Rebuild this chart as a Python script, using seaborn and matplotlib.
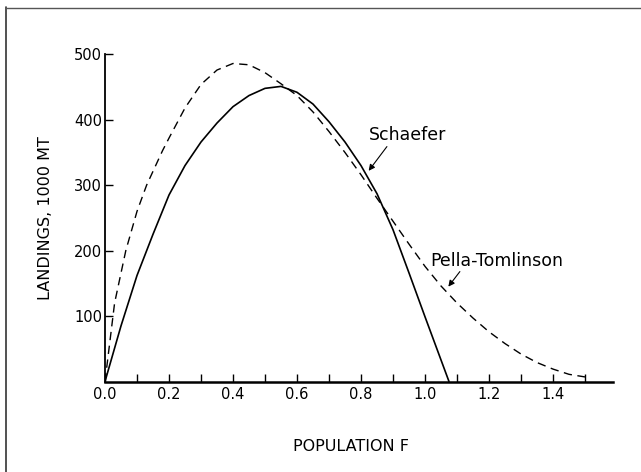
import matplotlib
matplotlib.use("Agg")
import matplotlib.pyplot as plt
from matplotlib.lines import Line2D
import pandas as pd
import seaborn as sns

# Schaefer curve (solid)
schaefer_f = [0, 0.05, 0.1, 0.15, 0.2, 0.25, 0.3, 0.35, 0.4, 0.45, 0.5, 0.55,
              0.6, 0.65, 0.7, 0.75, 0.8, 0.85, 0.9, 0.95, 1.0, 1.05, 1.075]
schaefer_y = [0, 85, 162, 225, 285, 330, 366, 395, 420, 437, 448, 451,
              442, 424, 397, 366, 330, 287, 232, 166, 99, 33, 0]

# Pella-Tomlinson curve (dashed)
pella_f = [0, 0.03, 0.065, 0.1, 0.13, 0.18, 0.2, 0.25, 0.3, 0.35, 0.4, 0.45,
           0.5, 0.55, 0.6, 0.65, 0.7, 0.75, 0.8, 0.85, 0.9, 0.95, 1.0, 1.05,
           1.1, 1.15, 1.2, 1.25, 1.3, 1.35, 1.4, 1.45, 1.5]
pella_y = [0, 120, 200, 260, 300, 353, 372, 418, 454, 476, 486, 484,
           472, 455, 437, 412, 382, 350, 316, 280, 245, 210, 176, 146,
           120, 97, 76, 58, 42, 29, 19, 11, 7]

x_major = [0.0, 0.2, 0.4, 0.6, 0.8, 1.0, 1.2, 1.4]
x_minor = [0.1, 0.3, 0.5, 0.7, 0.9, 1.1, 1.3, 1.5]
y_ticks = [100, 200, 300, 400, 500]

sns.set_style("ticks")
plt.rcParams["font.family"] = ["DejaVu Sans"]
plt.rcParams["text.color"] = "black"
plt.rcParams["axes.labelcolor"] = "black"

fig = plt.figure(figsize=(6.41, 4.72), dpi=100)
ax = fig.add_axes([0.1638, 0.1917, 0.7925, 0.6932])

df_s = pd.DataFrame({"F": schaefer_f, "Y": schaefer_y})
df_p = pd.DataFrame({"F": pella_f, "Y": pella_y})

sns.lineplot(data=df_s, x="F", y="Y", ax=ax, color="black", lw=1.2,
             sort=False, estimator=None)
sns.lineplot(data=df_p, x="F", y="Y", ax=ax, color="black", lw=1.0,
             linestyle=(0, (6, 4)), sort=False, estimator=None)

ax.set_xlim(0, 1.5875)
ax.set_ylim(0, 500)
ax.set_xticks(x_major)
ax.set_xticklabels([f"{v:.1f}" for v in x_major])
ax.set_xticks(x_minor, minor=True)
ax.set_yticks(y_ticks)

ax.tick_params(axis="both", which="both", direction="in", length=5.5,
               width=1.0, colors="black", labelsize=10.5)
ax.tick_params(axis="y", pad=2)
ax.tick_params(axis="x", pad=4)

sns.despine(ax=ax)
ax.spines["left"].set_linewidth(1.3)
ax.spines["bottom"].set_linewidth(1.8)
ax.spines["left"].set_color("black")
ax.spines["bottom"].set_color("black")

ax.set_xlabel("POPULATION F", fontsize=11.5)
ax.set_ylabel("LANDINGS, 1000 MT", fontsize=11.5)
ax.xaxis.set_label_coords(0.484, -0.175)
ax.yaxis.set_label_coords(-0.102, 0.5)

arrow = dict(arrowstyle="-|>", color="black", lw=0.8, mutation_scale=9,
             shrinkA=0, shrinkB=0)
ax.annotate("Schaefer", xy=(0.824, 322), xytext=(0.825, 377),
            fontsize=12.5, ha="left", va="center", color="black")
ax.annotate("", xy=(0.824, 322), xytext=(0.881, 359), arrowprops=arrow)
ax.annotate("Pella-Tomlinson", xy=(1.073, 145), xytext=(1.016, 184),
            fontsize=12.5, ha="left", va="center", color="black")
ax.annotate("", xy=(1.073, 145), xytext=(1.109, 168), arrowprops=arrow)

# scanned page frame
fig.add_artist(Line2D([0.0094, 0.0094], [0.0, 0.985], color="#333333",
                      lw=1.2, transform=fig.transFigure))
fig.add_artist(Line2D([0.0094, 1.0], [0.983, 0.983], color="#555555",
                      lw=1.0, transform=fig.transFigure))

fig.savefig("out.png", dpi=100, facecolor="white")
